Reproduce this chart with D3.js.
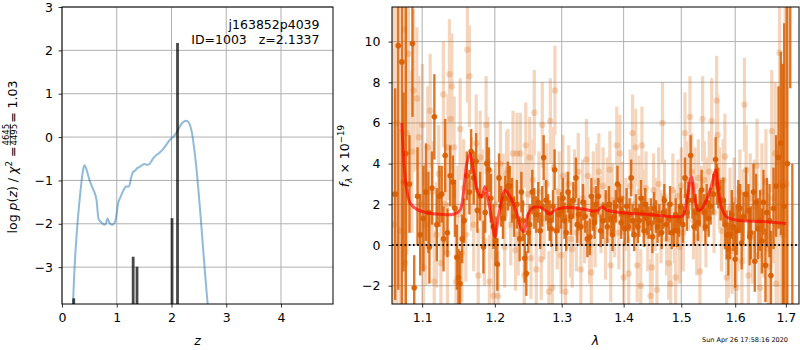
<!DOCTYPE html>
<html>
<head>
<meta charset="utf-8">
<script src="https://cdn.jsdelivr.net/npm/d3@7"></script>
<style>
  body { margin: 0; background: #fff; }
  svg { display: block; font-family: "DejaVu Sans", sans-serif; }
</style>
</head>
<body>
<script>
// ---------------- data: redshift fit (left) ----------------
const pzZ = [0.20, 0.23, 0.27, 0.31, 0.35, 0.38, 0.41, 0.44, 0.50, 0.55, 0.60, 0.63, 0.65, 0.67, 0.72, 0.78,
  0.80, 0.83, 0.85, 0.88, 0.93, 0.97, 1.00, 1.03, 1.08, 1.12, 1.17, 1.22, 1.26, 1.30, 1.34, 1.37, 1.40,
  1.45, 1.50, 1.55, 1.60, 1.65, 1.70, 1.78, 1.85, 1.92, 1.98, 2.05, 2.10, 2.15, 2.20, 2.25, 2.29, 2.33,
  2.37, 2.41, 2.45, 2.49, 2.53, 2.57, 2.61, 2.65, 2.68];
const pzLog = [-3.9, -3.0, -2.2, -1.6, -1.1, -0.8, -0.65, -0.72, -0.98, -1.15, -1.3, -1.45, -1.7, -1.9, -1.97, -2.02,
  -2.0, -1.88, -1.93, -2.0, -2.02, -1.95, -1.75, -1.5, -1.35, -1.23, -1.14, -1.14, -0.95, -0.8, -0.77, -0.72, -0.7,
  -0.66, -0.62, -0.64, -0.62, -0.52, -0.44, -0.36, -0.27, -0.15, -0.05, 0.03, 0.12, 0.24, 0.33, 0.37, 0.37, 0.3,
  0.12, -0.22, -0.65, -1.2, -1.8, -2.45, -3.1, -3.7, -4.1];
const spikeZ = [0.214, 1.30, 1.37, 2.01, 2.11];
const spikeLog = [-3.72, -2.76, -2.99, -1.87, 2.17];

// ---------------- data: spectrum (right), [lambda, flux, err] ----------------
const darkPts = [
  [1.065, 2.5, 5.2], [1.069, 9.8, 12], [1.0736, 9.0, 12], [1.0757, 3.1, 4.4], [1.0787, 4.5, 7.5],
  [1.0834, 3.0, 2.4], [1.0873, 9.9, 3.6], [1.0896, -2.1, 1.6], [1.0939, 2.4, 2.4], [1.0974, 0.5, 2.0],
  [1.1017, 1.3, 2.6], [1.1050, 2.6, 2.4], [1.1083, 1.6, 2.0], [1.1096, -0.1, 1.8], [1.1130, 2.8, 1.8],
  [1.1162, 6.3, 2.1], [1.1195, 1.0, 1.8], [1.1229, 2.4, 1.5], [1.1261, 2.5, 1.4], [1.1285, 0.3, 1.6],
  [1.1307, 4.4, 1.8], [1.1338, 0.6, 1.2], [1.1375, 3.4, 1.5], [1.1412, 3.1, 1.3], [1.1440, 1.8, 1.4],
  [1.1466, -0.6, 1.6], [1.1489, -1.6, 1.4], [1.1510, -1.9, 1.6], [1.1540, 0.3, 1.2], [1.1567, 1.2, 1.1],
  [1.1604, 3.4, 1.2], [1.1640, 2.6, 1.1], [1.1664, 4.6, 1.1], [1.1700, 3.3, 1.3], [1.1734, 4.1, 1.4],
  [1.1752, 1.7, 1.1], [1.1790, 2.4, 1.2], [1.1837, -0.1, 1.3], [1.1862, 1.6, 1.0], [1.1885, 4.0, 1.3],
  [1.1915, 3.7, 1.1], [1.1942, 2.3, 1.2], [1.1980, 0.9, 1.1], [1.2010, 0.2, 1.2], [1.2036, -0.95, 1.3],
  [1.2061, 3.3, 1.2], [1.2090, 1.9, 1.0], [1.2119, 1.3, 1.0], [1.2150, 2.3, 1.1], [1.2188, 2.9, 1.2],
  [1.2216, 2.9, 1.0], [1.2250, 2.2, 1.1], [1.2279, 1.4, 1.0], [1.2320, 2.0, 1.2], [1.2362, 0.3, 1.1],
  [1.2387, 2.6, 1.0], [1.2410, 1.2, 1.0], [1.2437, -0.65, 1.2], [1.2461, -1.4, 1.1], [1.2490, 0.6, 1.0],
  [1.2511, 1.0, 1.0], [1.2550, 2.6, 1.1], [1.2580, 1.8, 1.0], [1.2610, 1.5, 0.9], [1.2640, 2.1, 1.0],
  [1.2670, 0.7, 0.9], [1.2700, 1.9, 1.0], [1.2722, 4.3, 1.1], [1.2760, 2.2, 1.0], [1.2790, 1.6, 0.9],
  [1.2814, 1.2, 1.0], [1.2839, 0.8, 0.9], [1.2865, 1.9, 0.8], [1.2890, 3.7, 1.0], [1.2915, 0.7, 1.0],
  [1.2950, 1.5, 0.9], [1.2990, 1.7, 0.9], [1.3020, 2.3, 1.0], [1.3043, 1.2, 0.9], [1.3070, 0.6, 0.9],
  [1.3098, 2.6, 1.0], [1.3120, 1.9, 0.8], [1.3145, 1.4, 0.9], [1.3182, 2.2, 0.9], [1.3223, 3.3, 1.0],
  [1.3245, 1.0, 0.9], [1.3265, 1.5, 0.8], [1.3302, 0.9, 0.9], [1.3335, 2.1, 0.9], [1.3371, 1.4, 0.8],
  [1.3405, 0.3, 0.9], [1.3446, 0.4, 0.9], [1.3470, 2.4, 0.9], [1.3490, 1.5, 0.8], [1.3520, 1.1, 0.8],
  [1.3543, 2.0, 0.9], [1.3582, 2.4, 0.9], [1.3620, 0.7, 0.8], [1.3658, 1.2, 0.9], [1.3702, 1.9, 0.8],
  [1.3730, 0.9, 0.8], [1.3757, 2.0, 0.9], [1.3790, 1.3, 0.8], [1.3815, 0.5, 0.8], [1.3840, 1.4, 0.8],
  [1.3870, 1.9, 0.8], [1.3897, 3.0, 0.9], [1.3936, 2.2, 0.8], [1.3960, 1.1, 0.8], [1.3981, 1.6, 0.8],
  [1.4020, 0.8, 0.8], [1.4050, 1.9, 0.9], [1.4076, 0.9, 0.8], [1.4100, 1.5, 0.8], [1.4127, 3.3, 0.9],
  [1.4150, 1.2, 0.8], [1.4178, 0.5, 0.8], [1.4210, 1.7, 0.8], [1.4240, 0.9, 0.8], [1.4264, 1.2, 0.8],
  [1.4295, 2.3, 0.9], [1.4322, 1.6, 0.8], [1.4345, 0.7, 0.8], [1.4367, 2.0, 0.8], [1.4395, 1.3, 0.8],
  [1.4426, 1.1, 0.8], [1.4466, 1.5, 0.8], [1.4490, 0.4, 0.8], [1.4520, 1.8, 0.8], [1.4553, 1.4, 0.8],
  [1.4580, 0.9, 0.8], [1.4611, 1.2, 0.8], [1.4653, 0.6, 0.8], [1.4680, 1.6, 0.8], [1.4699, 2.2, 0.8],
  [1.4735, 1.0, 0.8], [1.4776, 1.3, 0.8], [1.4800, 2.0, 0.9], [1.4829, 0.6, 0.8], [1.4870, 0.7, 0.8],
  [1.4900, 1.5, 0.8], [1.4931, 0.7, 0.8], [1.4960, 1.2, 0.8], [1.4990, 1.9, 0.9], [1.5030, 1.0, 0.9],
  [1.5067, 3.3, 1.0], [1.5100, 1.6, 0.9], [1.5128, 2.2, 0.9], [1.5170, 4.4, 1.0], [1.5201, 2.2, 0.9],
  [1.5230, 0.9, 0.9], [1.5261, 1.6, 0.9], [1.5303, 1.1, 0.9], [1.5335, 1.8, 0.9], [1.5370, 2.7, 1.0],
  [1.5413, 1.6, 0.9], [1.5440, 0.9, 0.9], [1.5463, 2.1, 0.9], [1.5500, 1.3, 0.9], [1.5537, 1.9, 0.9],
  [1.5587, 2.5, 1.0], [1.5630, 4.2, 1.1], [1.5655, 3.0, 1.0], [1.5680, 2.8, 1.0], [1.5724, 2.2, 1.0],
  [1.5775, 2.2, 1.1], [1.5805, 1.0, 1.2], [1.5838, 0.5, 1.2], [1.5870, -0.2, 1.3], [1.5901, 0.5, 1.2],
  [1.5935, 1.5, 1.2], [1.5966, 0.9, 1.2], [1.6000, -0.7, 1.4], [1.6029, 0.7, 1.2], [1.6060, 1.9, 1.3],
  [1.6093, 1.8, 1.2], [1.6125, 0.1, 1.3], [1.6159, 1.4, 1.2], [1.6210, 2.5, 1.3], [1.6256, 1.7, 1.3],
  [1.6280, 0.4, 1.4], [1.6301, 0.6, 1.3], [1.6354, 2.6, 1.4], [1.6380, -0.8, 1.5], [1.6405, 2.1, 1.4],
  [1.6440, 0.8, 1.5], [1.6484, 1.2, 1.5], [1.6520, 0.2, 1.6], [1.6551, 2.1, 1.6], [1.6590, -1.0, 1.8],
  [1.6617, 1.6, 1.7], [1.6671, 1.2, 1.8], [1.6700, -1.5, 2.2], [1.6751, 1.8, 2.0], [1.6803, 2.9, 2.5],
  [1.6852, 4.3, 3.5], [1.6899, 5.0, 4.5], [1.6940, 2.9, 6.0], [1.6966, 1.9, 9.0], [1.7030, 4.0, 10],
  [1.7090, 14, 6.3], [1.7133, -6, 10]
];
const lightPts = [
  [1.063, 1.0, 12], [1.067, 6.0, 9], [1.0715, 0.7, 5], [1.0766, 10.6, 6], [1.0778, -0.9, 4],
  [1.0800, 5.5, 6], [1.0821, 9.4, 5], [1.0865, 4.6, 4], [1.0887, 7.6, 4], [1.0931, 7.2, 3.5],
  [1.0957, 5.3, 3], [1.0985, 2.0, 3], [1.1004, 5.9, 3], [1.1017, -1.1, 2.5], [1.1045, 1.0, 3],
  [1.1075, 4.8, 3], [1.1106, 6.6, 2.8], [1.1136, 2.6, 2.5], [1.1160, -1.8, 2.5], [1.1190, 0.5, 2.6],
  [1.1220, 3.5, 2.4], [1.1250, -0.9, 2.5], [1.1283, 7.4, 2.6], [1.1310, 2.0, 2.5], [1.1338, -0.4, 2.5],
  [1.1345, 4.8, 2.6], [1.1365, 8.4, 2.7], [1.1384, 6.2, 2.5], [1.1398, 7.8, 2.6], [1.1429, 4.8, 2.5],
  [1.1455, -1.8, 2.5], [1.1480, 1.5, 2.4], [1.1512, 5.7, 2.5], [1.1535, -0.4, 2.4], [1.1560, 2.8, 2.4],
  [1.1590, 0.5, 2.3], [1.1612, 9.6, 2.6], [1.1640, 8.3, 2.5], [1.1670, 3.0, 2.3], [1.1700, 1.0, 2.3],
  [1.1735, 5.0, 2.4], [1.1764, -1.5, 2.3], [1.1790, 4.3, 2.3], [1.1820, 2.5, 2.2], [1.1850, 0.2, 2.2],
  [1.1875, 5.9, 2.4], [1.1900, 4.1, 2.2], [1.1922, -1.8, 2.3], [1.1950, 1.5, 2.2], [1.1980, -2.5, 2.2],
  [1.2010, 2.0, 2.1], [1.2046, -2.5, 2.2], [1.2080, 4.0, 2.1], [1.2120, 2.4, 2.1], [1.2142, -0.1, 2.0],
  [1.2170, 3.5, 2.1], [1.2191, 3.7, 2.0], [1.2230, 1.0, 2.0], [1.2264, 4.5, 2.1], [1.2300, -0.25, 2.0],
  [1.2323, 4.5, 2.0], [1.2340, 0.5, 2.0], [1.2372, 4.5, 2.0], [1.2400, 2.0, 2.0], [1.2430, -1.5, 2.0],
  [1.2452, 4.9, 2.1], [1.2480, 2.5, 2.0], [1.2511, 4.3, 2.0], [1.2530, -0.65, 2.0], [1.2560, 3.2, 2.0],
  [1.2580, 6.5, 2.1], [1.2610, -1.2, 2.0], [1.2650, 2.6, 2.0], [1.2686, -0.7, 2.0], [1.2701, 5.9, 2.1],
  [1.2730, 1.3, 2.0], [1.2770, 3.0, 2.0], [1.2803, -2.3, 2.0], [1.2824, 6.1, 2.1], [1.2854, -2.1, 2.0],
  [1.2875, 3.8, 2.0], [1.2895, 7.6, 2.2], [1.2930, 0.8, 2.0], [1.2960, 2.6, 2.0], [1.2990, -0.5, 1.9],
  [1.3018, 3.4, 2.0], [1.3058, -2.3, 2.0], [1.3080, 1.7, 1.9], [1.3110, 3.0, 1.9], [1.3140, 0.3, 1.9],
  [1.3165, -0.2, 1.9], [1.3200, 2.8, 1.9], [1.3230, 0.6, 1.9], [1.3260, 3.6, 1.9], [1.3302, -1.2, 1.9],
  [1.3330, 2.3, 1.9], [1.3360, 1.0, 1.9], [1.3390, 4.2, 2.0], [1.3414, 3.4, 1.9], [1.3440, 0.0, 1.9],
  [1.3468, -1.35, 1.9], [1.3500, 2.7, 1.9], [1.3530, 0.8, 1.9], [1.3560, 3.1, 1.9], [1.3591, 3.6, 1.9],
  [1.3625, 1.5, 1.9], [1.3660, 2.9, 1.9], [1.3700, 0.2, 1.9], [1.3730, 2.4, 1.9], [1.3771, 3.7, 1.9],
  [1.3785, -1.0, 1.8], [1.3810, 2.2, 1.8], [1.3850, 1.2, 1.8], [1.3886, 4.9, 1.9], [1.3920, 0.6, 1.8],
  [1.3936, 4.5, 1.9], [1.3970, 2.3, 1.8], [1.4002, -1.6, 1.8], [1.4040, 1.5, 1.8], [1.4085, -1.4, 1.8],
  [1.4110, 2.9, 1.8], [1.4151, 5.5, 1.9], [1.4180, 2.0, 1.8], [1.4205, 4.8, 1.9], [1.4230, -1.0, 1.8],
  [1.4260, 2.6, 1.8], [1.4290, -2.0, 1.8], [1.4310, 4.9, 1.9], [1.4340, 1.9, 1.8], [1.4380, 2.8, 1.8],
  [1.4410, 0.5, 1.8], [1.4456, -2.5, 1.8], [1.4484, -1.1, 1.8], [1.4510, 2.7, 1.8], [1.4540, 1.5, 1.8],
  [1.4570, -2.2, 1.8], [1.4600, 3.0, 1.8], [1.4640, 0.9, 1.8], [1.4666, 6.0, 2.0], [1.4700, 2.4, 1.8],
  [1.4740, 0.3, 1.8], [1.4776, -0.9, 1.8], [1.4811, -1.9, 1.8], [1.4850, 2.7, 1.8], [1.4880, 0.9, 1.8],
  [1.4900, -1.6, 1.8], [1.4940, 2.4, 1.8], [1.4965, -0.1, 1.8], [1.5000, 2.9, 1.9], [1.5035, 0.6, 1.9],
  [1.5067, 5.5, 2.0], [1.5100, 3.2, 1.9], [1.5130, 2.6, 1.9], [1.5157, 6.3, 2.0], [1.5190, 3.6, 1.9],
  [1.5220, 1.2, 1.9], [1.5250, 2.9, 1.9], [1.5280, 0.4, 1.9], [1.5310, 3.3, 1.9], [1.5339, -1.3, 1.9],
  [1.5360, 2.0, 1.9], [1.5388, 6.2, 2.1], [1.5420, 3.2, 1.9], [1.5450, 0.8, 1.9], [1.5480, 2.4, 1.9],
  [1.5510, 3.6, 2.0], [1.5556, 6.1, 2.1], [1.5600, 1.6, 2.0], [1.5649, 7.1, 2.2], [1.5668, 5.4, 2.0],
  [1.5700, 2.8, 2.0], [1.5740, 0.7, 2.0], [1.5770, 3.2, 2.0], [1.5805, 4.35, 2.1], [1.5838, -1.6, 2.0],
  [1.5872, -0.6, 2.0], [1.5900, 1.8, 2.0], [1.5940, -0.3, 2.1], [1.5980, 2.2, 2.1], [1.6021, -2.1, 2.1],
  [1.6050, 0.8, 2.1], [1.6090, 2.6, 2.1], [1.6130, -0.8, 2.2], [1.6150, 1.5, 2.2], [1.6179, 6.9, 2.3],
  [1.6210, 3.7, 2.2], [1.6256, -1.5, 2.2], [1.6290, 2.3, 2.2], [1.6330, 0.4, 2.3], [1.6370, 1.9, 2.3],
  [1.6424, 3.9, 2.3], [1.6460, -0.5, 2.4], [1.6484, -2.1, 2.4], [1.6520, 2.6, 2.4], [1.6560, 0.9, 2.5],
  [1.6600, 3.1, 2.6], [1.6640, -0.2, 2.7], [1.6671, -1.05, 2.8], [1.6716, 5.6, 3.0], [1.6750, 2.3, 3.2],
  [1.6784, 4.5, 3.5], [1.6803, -1.9, 3.5], [1.6830, 1.0, 4.0], [1.6872, 9.45, 5.0], [1.6900, 3.0, 6.0],
  [1.6930, 0.5, 7.0], [1.6985, 5.9, 8.0], [1.7010, 3.0, 10]
];
const modelWave = [1.0736, 1.0766, 1.0800, 1.0844, 1.0931, 1.1062, 1.1239, 1.1419, 1.1511, 1.1557, 1.1604,
  1.1649, 1.1695, 1.1765, 1.1813, 1.1860, 1.1907, 1.1955, 1.2002, 1.2050, 1.2099, 1.2147, 1.2220, 1.2318,
  1.2392, 1.2426, 1.2475, 1.2540, 1.2640, 1.2741, 1.2817, 1.2894, 1.3023, 1.3286, 1.3498, 1.3579, 1.3634,
  1.3716, 1.3936, 1.4387, 1.4972, 1.5031, 1.5121, 1.5182, 1.5242, 1.5302, 1.5364, 1.5457, 1.5549, 1.5629,
  1.5672, 1.5736, 1.5831, 1.6021, 1.6537, 1.7006];
const modelFlux = [6.0, 3.85, 2.7, 2.05, 1.75, 1.59, 1.51, 1.51, 1.72, 2.54, 4.0,
  4.5, 3.69, 2.54, 2.38, 2.87, 2.21, 1.23, 0.41, 1.39, 2.21, 2.7, 2.38, 1.56,
  0.74, 0.66, 1.39, 1.8, 1.88, 1.72, 1.52, 1.72, 1.83, 1.8, 1.67, 1.7, 1.88,
  1.72, 1.6, 1.51, 1.39, 1.45, 2.54, 3.36, 2.38, 1.72, 1.75, 2.21, 2.87, 3.69,
  2.87, 1.88, 1.39, 1.23, 1.15, 1.06];

const zTicks = [0, 1, 2, 3, 4];
const logTicks = [-3, -2, -1, 0, 1, 2, 3];
const lamTicks = [1.1, 1.2, 1.3, 1.4, 1.5, 1.6, 1.7];
const fluxTicks = [-2, 0, 2, 4, 6, 8, 10];

const objName = 'j163852p4039';
const objInfo = 'ID=1003   z=2.1337';
const stamp = 'Sun Apr 26 17:58:16 2020';

// ---------------- layout ----------------
const W = 800, H = 350;
const fs = 12.5;
const gridColor = '#b0b0b0';
const specColor = '#d95f02';

const svg = d3.select('body').append('svg').attr('width', W).attr('height', H);

const L = { x0: 62, x1: 333, y0: 7, y1: 304 };
const R = { x0: 392, x1: 799, y0: 7, y1: 304 };

const xz = d3.scaleLinear().domain([0, 4.95]).range([L.x0, L.x1]);
const yz = d3.scaleLinear().domain([-3.85, 3]).range([L.y1, L.y0]);
const xl = d3.scaleLog().domain([1.061, 1.727]).range([R.x0, R.x1]);
const yf = d3.scaleLinear().domain([-2.9, 11.7]).range([R.y1, R.y0]);

const defs = svg.append('defs');
defs.append('clipPath').attr('id', 'clipL').append('rect')
	.attr('x', L.x0).attr('y', L.y0).attr('width', L.x1 - L.x0).attr('height', L.y1 - L.y0);
defs.append('clipPath').attr('id', 'clipR').append('rect')
	.attr('x', R.x0).attr('y', R.y0).attr('width', R.x1 - R.x0).attr('height', R.y1 - R.y0);

function drawAxes(box, x, y, xt, yt, xfmt, yfmt, ypad) {
	const g = svg.append('g');
	// grid
	g.append('g').selectAll('line').data(xt).join('line')
		.attr('x1', (d) => x(d)).attr('x2', (d) => x(d)).attr('y1', box.y0).attr('y2', box.y1)
		.attr('stroke', gridColor).attr('stroke-width', 1);
	g.append('g').selectAll('line').data(yt).join('line')
		.attr('x1', box.x0).attr('x2', box.x1).attr('y1', (d) => y(d)).attr('y2', (d) => y(d))
		.attr('stroke', gridColor).attr('stroke-width', 1);

	const ax = g.append('g').attr('transform', `translate(0,${box.y1})`)
		.call(d3.axisBottom(x).tickValues(xt).tickFormat(xfmt).tickSize(3.5).tickPadding(5.5));
	const ay = g.append('g').attr('transform', `translate(${box.x0},0)`)
		.call(d3.axisLeft(y).tickValues(yt).tickFormat(yfmt).tickSize(3.5).tickPadding(ypad));
	[ax, ay].forEach((a) => {
		a.select('.domain').remove();
		a.selectAll('text').attr('font-size', fs).attr('font-family', 'DejaVu Sans').attr('fill', '#000');
		a.selectAll('line').attr('stroke', '#000').attr('stroke-width', 0.8);
	});
	return g;
}

function drawFrame(box) {
	svg.append('rect').attr('x', box.x0).attr('y', box.y0)
		.attr('width', box.x1 - box.x0).attr('height', box.y1 - box.y0)
		.attr('fill', 'none').attr('stroke', '#000').attr('stroke-width', 1);
}

const minus = (s) => s.replace('-', '\u2212');

// ---------------- left panel ----------------
drawAxes(L, xz, yz, zTicks, logTicks, d3.format('d'), (d) => minus(String(d)), 5.5);

const pl = svg.append('g').attr('clip-path', 'url(#clipL)');
pl.append('path')
	.datum(pzZ.map((z, i) => [z, pzLog[i]]))
	.attr('d', d3.line().x((d) => xz(d[0])).y((d) => yz(d[1])).curve(d3.curveCatmullRom))
	.attr('fill', 'none').attr('stroke', '#1f77b4').attr('stroke-opacity', 0.5).attr('stroke-width', 2);

pl.append('g').selectAll('rect').data(spikeZ).join('rect')
	.attr('x', (d) => xz(d) - 1.4)
	.attr('width', 2.8)
	.attr('y', (d, i) => yz(spikeLog[i]))
	.attr('height', (d, i) => L.y1 - yz(spikeLog[i]) + 2)
	.attr('fill', '#000').attr('fill-opacity', 0.72);

drawFrame(L);

svg.append('text').attr('x', 319.5).attr('y', 29).attr('text-anchor', 'end')
	.attr('font-size', fs).text(objName);
svg.append('text').attr('x', 319.5).attr('y', 43.5).attr('text-anchor', 'end')
	.attr('font-size', fs).attr('xml:space', 'preserve').style('white-space', 'pre').text(objInfo);

svg.append('text').attr('x', (L.x0 + L.x1) / 2).attr('y', 345).attr('text-anchor', 'middle')
	.attr('font-size', fs).attr('font-style', 'italic').text('z');

// y label: log p(z) / chi^2 = 4645/4495 = 1.03
{
	const g = svg.append('g');
	const t1 = g.append('text').attr('font-size', fs).attr('y', 0).attr('x', 0);
	t1.append('tspan').text('log ');
	t1.append('tspan').attr('font-style', 'italic').text('p');
	t1.append('tspan').text('(');
	t1.append('tspan').attr('font-style', 'italic').text('z');
	t1.append('tspan').text(') / ');
	t1.append('tspan').attr('font-style', 'italic').text('\u03c7');
	t1.append('tspan').attr('font-size', fs * 0.7).attr('dy', -5).text('2');
	t1.append('tspan').attr('dy', 5).text(' = ');
	const w1 = t1.node().getComputedTextLength();
	const fr = g.append('g').attr('transform', `translate(${w1 + 1},0)`);
	const num = fr.append('text').attr('font-size', fs * 0.68).attr('y', -7.3).text('4645');
	const wf = num.node().getComputedTextLength();
	fr.append('text').attr('font-size', fs * 0.68).attr('y', 0.3).text('4495');
	fr.append('line').attr('x1', 0).attr('x2', wf).attr('y1', -6.2).attr('y2', -6.2)
		.attr('stroke', '#000').attr('stroke-width', 0.7);
	const t2 = g.append('text').attr('font-size', fs).attr('x', w1 + wf + 2).attr('y', 0).text(' = 1.03');
	const total = w1 + wf + 2 + t2.node().getComputedTextLength();
	g.attr('transform', `translate(16.5,${157 + total / 2}) rotate(-90)`);
}

// ---------------- right panel ----------------
drawAxes(R, xl, yf, lamTicks, fluxTicks, d3.format('.1f'), (d) => minus(String(d)), 8);

const pr = svg.append('g').attr('clip-path', 'url(#clipR)');

// low-weight points
const gl = pr.append('g').attr('opacity', 0.26);
gl.selectAll('line').data(lightPts).join('line')
	.attr('x1', (d) => xl(d[0])).attr('x2', (d) => xl(d[0]))
	.attr('y1', (d) => yf(d[1] - d[2])).attr('y2', (d) => yf(d[1] + d[2]))
	.attr('stroke', specColor).attr('stroke-width', 3.2);
pr.append('g').selectAll('circle').data(lightPts).join('circle')
	.attr('cx', (d) => xl(d[0])).attr('cy', (d) => yf(d[1])).attr('r', 3.2)
	.attr('fill', specColor).attr('fill-opacity', 0.24);

// good points
pr.append('g').selectAll('line').data(darkPts).join('line')
	.attr('x1', (d) => xl(d[0])).attr('x2', (d) => xl(d[0]))
	.attr('y1', (d) => yf(d[1] - d[2])).attr('y2', (d) => yf(d[1] + d[2]))
	.attr('stroke', specColor).attr('stroke-opacity', 0.85).attr('stroke-width', 2.4);
pr.append('g').selectAll('circle').data(darkPts).join('circle')
	.attr('cx', (d) => xl(d[0])).attr('cy', (d) => yf(d[1])).attr('r', 2.8)
	.attr('fill', specColor).attr('fill-opacity', 0.95);

// model
pr.append('path')
	.datum(modelWave.map((w, i) => [w, modelFlux[i]]))
	.attr('d', d3.line().x((d) => xl(d[0])).y((d) => yf(d[1])).curve(d3.curveCatmullRom))
	.attr('fill', 'none').attr('stroke', 'red').attr('stroke-opacity', 0.65).attr('stroke-width', 3);

// zero line
pr.append('line').attr('x1', R.x0).attr('x2', R.x1).attr('y1', yf(0)).attr('y2', yf(0))
	.attr('stroke', '#000').attr('stroke-width', 2).attr('stroke-dasharray', '1.6,2.6');

drawFrame(R);

svg.append('text').attr('x', (R.x0 + R.x1) / 2).attr('y', 345).attr('text-anchor', 'middle')
	.attr('font-size', fs).attr('font-style', 'italic').text('\u03bb');

// y label: f_lambda x 10^-19
{
	const t = svg.append('text').attr('font-size', fs).attr('text-anchor', 'middle')
		.attr('transform', 'translate(349,156) rotate(-90)');
	t.append('tspan').attr('font-style', 'italic').text('f');
	t.append('tspan').attr('font-style', 'italic').attr('font-size', fs * 0.7).attr('dy', 3).text('\u03bb');
	t.append('tspan').attr('dy', -3).text(' \u00d7 10');
	t.append('tspan').attr('font-size', fs * 0.7).attr('dy', -5).text('\u221219');
}

svg.append('text').attr('x', 788).attr('y', 342).attr('text-anchor', 'end')
	.attr('font-size', 6.5).text(stamp);
</script>
</body>
</html>
